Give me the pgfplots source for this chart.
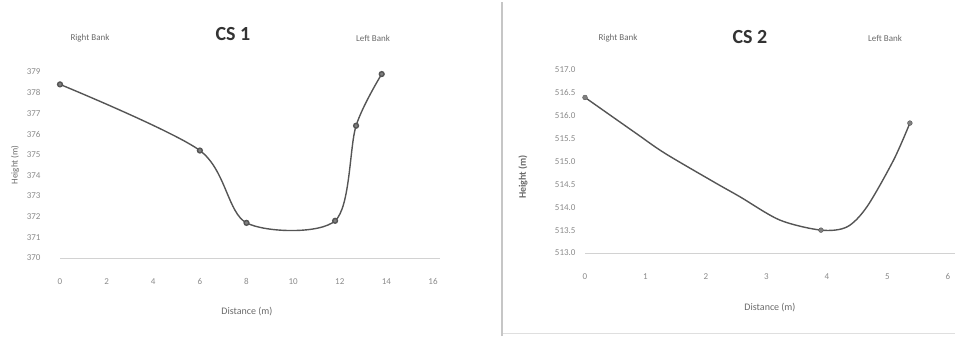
\documentclass[border=0pt]{standalone}
\usepackage{pgfplots}
\pgfplotsset{compat=1.18}
\usepackage{fontspec}
\setmainfont{Carlito}
\definecolor{ln}{HTML}{555555}
\definecolor{mk}{HTML}{808080}
\definecolor{tk}{HTML}{8A8A8A}
\definecolor{tt}{HTML}{333333}
\definecolor{lb}{HTML}{6A6A6A}
\pgfplotsset{
  cs/.style={
    scale only axis,
    anchor=south west,
    axis line style={draw=none},
    tick style={draw=none},
    ticklabel style={font=\fontsize{9}{9}\selectfont, text=tk},
    xticklabel style={yshift=-17pt},
    yticklabel style={xshift=-6pt},
    /pgf/number format/assume math mode=true,
    clip=false,
  }
}
\begin{document}
\begin{tikzpicture}[x=1pt,y=1pt]
\path (0,0) rectangle (961,340);
\draw[gray!45, line width=1.2pt] (502,4) -- (502,338);
\draw[gray!25, line width=0.8pt] (503,7) -- (955,7);
% CS 1
\begin{axis}[cs, at={(60pt,82pt)}, width=373pt, height=186pt,
  xmin=0, xmax=16, ymin=370, ymax=379,
  xtick={0,2,...,16}, ytick={370,371,...,379},
  yticklabel style={xshift=-10pt}]
\draw[gray!35, line width=0.8pt] (rel axis cs:0,0) -- (rel axis cs:1.02,0);
\addplot[color=ln, line width=1.4pt, smooth, tension=0.5, mark=*, mark size=2.4pt,
  mark options={fill=mk, draw=ln}] coordinates {
  (0,378.4) (6,375.2) (8,371.7) (11.8,371.8) (12.7,376.4) (13.8,378.9)
};
\end{axis}
\node[font=\fontsize{20}{20}\selectfont\bfseries, text=tt] at (233,306) {CS 1};
\node[font=\fontsize{9}{9}\selectfont, text=lb] at (90,302) {Right Bank};
\node[font=\fontsize{9}{9}\selectfont, text=lb] at (373,302) {Left Bank};
\node[font=\fontsize{10}{10}\selectfont, text=lb] at (247,28) {Distance (m)};
\node[font=\fontsize{9}{9}\selectfont, text=lb, rotate=90] at (15,175) {Height (m)};
% CS 2
\begin{axis}[cs, at={(585pt,87pt)}, width=363pt, height=183pt,
  xmin=0, xmax=6, ymin=513, ymax=517,
  xtick={0,1,...,6}, ytick={513,513.5,...,517},
  yticklabel style={/pgf/number format/.cd, fixed, precision=1, zerofill}]
\draw[gray!35, line width=0.8pt] (rel axis cs:0,0) -- (rel axis cs:1.02,0);
\addplot[color=ln, line width=1.4pt, smooth, tension=0.5] coordinates {
  (0,516.4) (0.85,515.61) (1.32,515.18) (2.12,514.56) (2.56,514.23) (3.22,513.72)
  (3.9,513.5) (4.33,513.57) (4.66,514.01) (5.1,515.03) (5.37,515.84)
};
\addplot[only marks, mark=*, mark size=2.4pt, mark options={fill=mk, draw=ln}] coordinates {
  (0,516.4) (3.9,513.5) (5.37,515.84)
};
\end{axis}
\node[font=\fontsize{20}{20}\selectfont\bfseries, text=tt] at (750,303) {CS 2};
\node[font=\fontsize{9}{9}\selectfont, text=lb] at (618,302) {Right Bank};
\node[font=\fontsize{9}{9}\selectfont, text=lb] at (885,302) {Left Bank};
\node[font=\fontsize{10}{10}\selectfont, text=lb] at (770,32) {Distance (m)};
\node[font=\fontsize{10}{10}\selectfont\bfseries, text=lb, rotate=90] at (523,163) {Height (m)};
\end{tikzpicture}
\end{document}
